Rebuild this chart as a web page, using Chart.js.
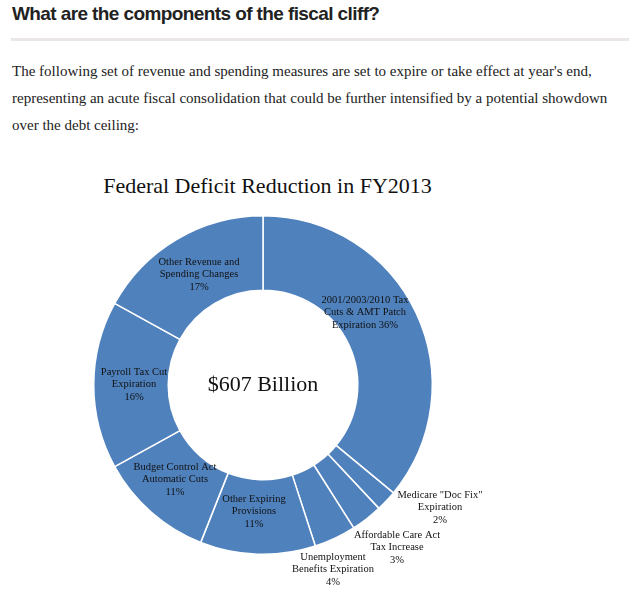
<!DOCTYPE html>
<html>
<head>
<meta charset="utf-8">
<script src="https://cdn.jsdelivr.net/npm/chart.js@4.4.0/dist/chart.umd.min.js"></script>
<style>
  body { margin: 0; background: #fff; width: 635px; height: 600px; overflow: hidden; position: relative; }
  h2 { position: absolute; left: 12px; top: 3px; margin: 0; font: bold 19px "Liberation Sans", Arial, sans-serif; letter-spacing: -0.6px; color: #222; }
  .rule { position: absolute; left: 11px; top: 38px; width: 618px; height: 3px; background: #ebe6e6; }
  p { position: absolute; left: 12px; top: 58px; width: 620px; margin: 0; font: 15px "Liberation Serif", serif; line-height: 27px; color: #222; }
  .title { position: absolute; left: 0; width: 535px; top: 173px; text-align: center; font: 22px "Liberation Serif", serif; color: #111; }
  #wrap { position: absolute; left: 0; top: 150px; width: 635px; height: 450px; }
</style>
</head>
<body>
<h2>What are the components of the fiscal cliff?</h2>
<div class="rule"></div>
<p>The following set of revenue and spending measures are set to expire or take effect at year's end, representing an acute fiscal consolidation that could be further intensified by a potential showdown over the debt ceiling:</p>
<div class="title">Federal Deficit Reduction in FY2013</div>
<div id="wrap"><canvas id="myChart"></canvas></div>
<script>
const categories = [
  '2001/2003/2010 Tax Cuts & AMT Patch Expiration',
  'Medicare "Doc Fix" Expiration',
  'Affordable Care Act Tax Increase',
  'Unemployment Benefits Expiration',
  'Other Expiring Provisions',
  'Budget Control Act Automatic Cuts',
  'Payroll Tax Cut Expiration',
  'Other Revenue and Spending Changes'
];
const shares = [36, 2, 3, 4, 11, 11, 16, 17];
const labelLines = [
  ['2001/2003/2010 Tax', 'Cuts & AMT Patch', 'Expiration 36%'],
  ['Medicare "Doc Fix"', 'Expiration', '2%'],
  ['Affordable Care Act', 'Tax Increase', '3%'],
  ['Unemployment', 'Benefits Expiration', '4%'],
  ['Other Expiring', 'Provisions', '11%'],
  ['Budget Control Act', 'Automatic Cuts', '11%'],
  ['Payroll Tax Cut', 'Expiration', '16%'],
  ['Other Revenue and', 'Spending Changes', '17%']
];
const centerText = '$607 Billion';

// label first-line positions relative to doughnut centre
const labelPos = [[102, -85], [177, 110], [134, 150], [70, 172], [-9, 114], [-88, 82], [-129, -13], [-64, -123]];

const labelPlugin = {
  id: 'labels',
  afterDraw(chart) {
    const ctx = chart.ctx;
    const arc = chart.getDatasetMeta(0).data[0];
    const cx = arc.x, cy = arc.y;
    ctx.save();
    ctx.fillStyle = '#111';
    ctx.textAlign = 'center';
    ctx.textBaseline = 'middle';
    ctx.font = '10.5px "Liberation Serif", serif';
    labelLines.forEach((lines, i) => {
      lines.forEach((t, j) => {
        ctx.fillText(t, cx + labelPos[i][0], cy + labelPos[i][1] + j * 12.5);
      });
    });
    ctx.font = '22px "Liberation Serif", serif';
    ctx.fillText(centerText, cx, cy);
    ctx.restore();
  }
};

const ctx = document.getElementById('myChart').getContext('2d');
const myChart = new Chart(ctx, {
  type: 'doughnut',
  data: {
    labels: categories,
    datasets: [{
      data: shares,
      backgroundColor: '#4f81bd',
      borderColor: '#ffffff',
      borderWidth: 1.5
    }]
  },
  options: {
    responsive: true,
    maintainAspectRatio: false,
    animation: false,
    cutout: '56%',
    layout: { padding: { left: 93, right: 202, top: 65, bottom: 45 } },
    plugins: { legend: { display: false }, tooltip: { enabled: false } }
  },
  plugins: [labelPlugin]
});
</script>
</body>
</html>
